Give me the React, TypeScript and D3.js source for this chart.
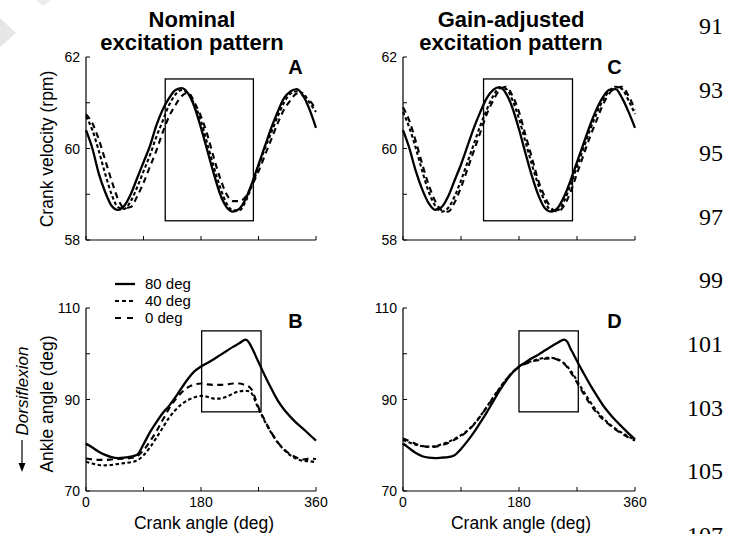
import React from "react";
import * as d3 from "d3";

// ---------- data ----------
const topAngles = [0,10,20,30,40,50,60,70,80,90,100,110,120,130,140,150,160,170,180,190,200,210,220,230,240,250,260,270,280,290,300,310,320,330,340,350,360];
const velA80 = [60.4,60.0,59.45,59.05,58.75,58.66,58.75,59.0,59.35,59.7,60.05,60.5,60.85,61.1,61.28,61.32,61.2,60.9,60.45,59.95,59.45,59.0,58.72,58.62,58.68,58.9,59.25,59.65,60.05,60.45,60.8,61.1,61.25,61.3,61.15,60.85,60.45];
const velA40 = [60.7,60.4,59.95,59.45,59.0,58.72,58.68,58.85,59.15,59.5,59.85,60.25,60.6,60.95,61.18,61.28,61.2,60.95,60.6,60.1,59.6,59.15,58.8,58.65,58.65,58.85,59.2,59.6,60.0,60.35,60.7,61.0,61.2,61.25,61.2,61.0,60.8];
const velA0 = [60.75,60.55,60.2,59.75,59.3,58.9,58.7,58.72,58.95,59.25,59.6,59.95,60.35,60.7,60.95,61.15,61.22,61.0,60.7,60.3,59.8,59.35,59.0,58.85,58.85,58.95,59.2,59.5,59.85,60.2,60.55,60.85,61.05,61.2,61.15,61.05,60.85];
const velC80 = [60.4,60.0,59.5,59.1,58.8,58.66,58.72,58.95,59.3,59.65,60.05,60.45,60.8,61.1,61.28,61.34,61.2,60.88,60.42,59.9,59.4,58.98,58.7,58.62,58.7,58.95,59.3,59.7,60.1,60.5,60.85,61.12,61.28,61.3,61.1,60.8,60.45];
const velC40 = [60.8,60.45,60.0,59.5,59.05,58.75,58.62,58.7,58.95,59.3,59.7,60.1,60.5,60.85,61.15,61.32,61.3,61.05,60.65,60.15,59.65,59.2,58.85,58.65,58.65,58.85,59.2,59.6,60.0,60.4,60.75,61.05,61.25,61.35,61.3,61.05,60.75];
const velC0 = [60.9,60.6,60.15,59.65,59.2,58.85,58.65,58.62,58.82,59.15,59.55,59.95,60.35,60.75,61.05,61.28,61.35,61.15,60.8,60.3,59.8,59.3,58.95,58.7,58.62,58.75,59.05,59.45,59.85,60.25,60.6,60.95,61.2,61.32,61.35,61.15,60.85];

const botAngles = [0,10,20,30,40,50,60,70,80,90,100,110,120,130,140,150,160,170,180,190,200,210,220,230,240,250,255,260,265,270,280,290,300,310,320,330,340,350,360];
const angB80 = [80.4,79.5,78.6,77.9,77.4,77.2,77.3,77.5,77.9,80.2,82.8,85.0,87.0,88.6,90.5,92.6,94.6,96.2,97.2,98.0,98.8,99.7,100.6,101.5,102.3,103.1,102.5,101.2,99.7,98.2,95.2,92.4,89.8,87.8,86.2,84.8,83.6,82.3,81.0];
const angB40 = [76.4,76.0,75.7,75.6,75.7,75.9,76.1,76.3,76.7,77.8,79.5,81.6,83.8,86.0,87.7,89.0,89.9,90.5,90.8,90.6,90.2,90.2,90.6,91.3,91.8,91.9,91.8,91.2,89.6,88.0,85.2,82.7,80.6,79.0,77.8,77.0,76.6,76.5,76.3];
const angB0 = [77.1,76.9,76.8,76.8,76.9,77.0,77.1,77.2,77.6,78.9,80.8,83.0,85.5,88.0,90.0,91.6,92.7,93.3,93.5,93.3,93.2,93.2,93.3,93.5,93.5,93.1,92.8,92.0,90.2,88.3,85.4,82.8,80.7,79.1,78.0,77.3,76.9,77.1,77.0];
const angD80 = [80.4,79.3,78.3,77.6,77.3,77.2,77.3,77.4,77.8,79.2,80.9,82.8,85.0,87.2,89.6,92.0,94.1,95.9,97.2,98.1,99.0,99.8,100.7,101.6,102.4,103.1,102.6,101.1,99.8,98.4,95.8,93.3,91.0,88.8,87.0,85.4,84.0,82.6,81.3];
const angD40 = [81.2,80.6,80.1,79.8,79.7,79.8,80.2,80.7,81.4,82.2,83.2,84.6,86.4,88.4,90.5,92.5,94.4,96.0,97.2,97.9,98.4,98.8,99.1,99.1,98.8,97.9,97.2,96.3,95.3,94.1,91.8,89.6,87.6,86.0,84.7,83.6,82.7,81.9,81.2];
const angD0 = [81.5,80.9,80.3,79.9,79.6,79.7,80.0,80.5,81.2,82.0,83.1,84.5,86.3,88.3,90.4,92.4,94.3,95.9,97.1,97.8,98.3,98.6,98.9,99.0,98.7,97.8,97.0,96.0,94.9,93.7,91.3,89.1,87.2,85.7,84.5,83.4,82.5,81.7,81.0];

// boxes: [x0, x1, yLow, yHigh] in data units
const boxA = [124, 262, 58.42, 61.52];
const boxC = [125, 263, 58.42, 61.52];
const boxB = [181, 274, 87.3, 105];
const boxD = [180, 272, 87.3, 105];

const xTicks = [0, 90, 180, 270, 360];
const xTickLabels = ["0", "", "180", "", "360"];
const velTicks = [58, 59, 60, 61, 62];
const velTickLabels = ["58", "", "60", "", "62"];
const angTicks = [70, 80, 90, 100, 110];
const angTickLabels = ["70", "", "90", "", "110"];

const legendLabels = ["80 deg", "40 deg", "0 deg"];
const lineNumbers = ["91", "93", "95", "97", "99", "101", "103", "105", "107"];

const SANS = "'Liberation Sans', Arial, Helvetica, sans-serif";
const styles = [
  { width: 2.3, dash: "none" },
  { width: 2.1, dash: "3.5,2.5" },
  { width: 2.1, dash: "6,4.5" },
];

type PanelProps = {
  x0: number; x1: number; yTop: number; yBot: number;
  domain: [number, number];
  ticks: number[]; tickLabels: string[];
  angles: number[]; series: number[][];
  box: number[]; letter: string;
  showXLabels: boolean;
};

function Panel(p: PanelProps) {
  const xs = d3.scaleLinear().domain([0, 360]).range([p.x0, p.x1]);
  const ys = d3.scaleLinear().domain(p.domain).range([p.yBot, p.yTop]);
  const line = d3.line<[number, number]>()
    .x(d => xs(d[0]))
    .y(d => ys(d[1]))
    .curve(d3.curveMonotoneX);
  const tl = 4;
  return (
    <g>
      {[2, 1, 0].map(i => (
        <path key={i}
          d={line(p.angles.map((a, k) => [a, p.series[i][k]]) as [number, number][]) || ""}
          fill="none" stroke="#000" strokeWidth={styles[i].width}
          strokeDasharray={styles[i].dash} strokeLinejoin="round" />
      ))}
      <rect x={xs(p.box[0])} y={ys(p.box[3])}
        width={xs(p.box[1]) - xs(p.box[0])} height={ys(p.box[2]) - ys(p.box[3])}
        fill="none" stroke="#000" strokeWidth={1.3} />
      <line x1={p.x0} x2={p.x0} y1={p.yTop} y2={p.yBot} stroke="#000" strokeWidth={1.2} />
      <line x1={p.x0} x2={p.x1} y1={p.yBot} y2={p.yBot} stroke="#000" strokeWidth={1.2} />
      {xTicks.map((t, i) => (
        <g key={"x" + i}>
          <line x1={xs(t)} x2={xs(t)} y1={p.yBot} y2={p.yBot - tl} stroke="#000" strokeWidth={1} />
          {p.showXLabels && xTickLabels[i] && (
            <text x={xs(t)} y={p.yBot + 16} textAnchor="middle" fontFamily={SANS} fontSize={14}>{xTickLabels[i]}</text>
          )}
        </g>
      ))}
      {p.ticks.map((t, i) => (
        <g key={"y" + i}>
          <line x1={p.x0} x2={p.x0 + tl} y1={ys(t)} y2={ys(t)} stroke="#000" strokeWidth={1} />
          {p.tickLabels[i] && (
            <text x={p.x0 - 6} y={ys(t) + 5} textAnchor="end" fontFamily={SANS} fontSize={14}>{p.tickLabels[i]}</text>
          )}
        </g>
      ))}
      <text x={xs(328)} y={p.yTop + (p.domain[0] === 58 ? 17 : 20)} textAnchor="middle" fontFamily={SANS}
        fontSize={20} fontWeight="bold">{p.letter}</text>
    </g>
  );
}

export default function App() {
  const velLeftY: [number, number] = [58, 62];
  const angY: [number, number] = [70, 110];
  return (
    <div style={{ position: "absolute", left: 0, top: 0 }}>
      <svg width={743} height={534} style={{ display: "block", background: "#fff" }}>
        <rect width={743} height={534} fill="#fff" />
        {/* faint background marks */}
        <polygon points="0,18 16,33 0,47" fill="#e6e6e6" />
        <polygon points="36,0 51,0 43,6" fill="#ececec" />
        {/* titles */}
        <text x={192} y={27} textAnchor="middle" fontFamily={SANS} fontSize={22} fontWeight="bold">Nominal</text>
        <text x={192} y={50} textAnchor="middle" fontFamily={SANS} fontSize={22} fontWeight="bold">excitation pattern</text>
        <text x={511} y={27} textAnchor="middle" fontFamily={SANS} fontSize={22} fontWeight="bold">Gain-adjusted</text>
        <text x={511} y={50} textAnchor="middle" fontFamily={SANS} fontSize={22} fontWeight="bold">excitation pattern</text>

        <Panel x0={86} x1={316} yTop={57} yBot={240} domain={velLeftY}
          ticks={velTicks} tickLabels={velTickLabels}
          angles={topAngles} series={[velA80, velA40, velA0]} box={boxA} letter="A" showXLabels={false} />
        <Panel x0={403} x1={635} yTop={57} yBot={240} domain={velLeftY}
          ticks={velTicks} tickLabels={velTickLabels}
          angles={topAngles} series={[velC80, velC40, velC0]} box={boxC} letter="C" showXLabels={false} />
        <Panel x0={86} x1={316} yTop={308} yBot={491} domain={angY}
          ticks={angTicks} tickLabels={angTickLabels}
          angles={botAngles} series={[angB80, angB40, angB0]} box={boxB} letter="B" showXLabels={true} />
        <Panel x0={403} x1={635} yTop={308} yBot={491} domain={angY}
          ticks={angTicks} tickLabels={angTickLabels}
          angles={botAngles} series={[angD80, angD40, angD0]} box={boxD} letter="D" showXLabels={true} />

        <text transform="translate(53,149) rotate(-90)" textAnchor="middle" fontFamily={SANS} fontSize={17.5}>Crank velocity (rpm)</text>
        <text transform="translate(53,404) rotate(-90)" textAnchor="middle" fontFamily={SANS} fontSize={17.5}>Ankle angle (deg)</text>
        <text transform="translate(28,391) rotate(-90)" textAnchor="middle" fontFamily={SANS} fontSize={17} fontStyle="italic">Dorsiflexion</text>
        <line x1={22} x2={22} y1={440} y2={468} stroke="#000" strokeWidth={1.2} />
        <path d="M18.5,463 L22,472 L25.5,463 Z" fill="#000" />
        <text x={204} y={529} textAnchor="middle" fontFamily={SANS} fontSize={17.5}>Crank angle (deg)</text>
        <text x={521} y={529} textAnchor="middle" fontFamily={SANS} fontSize={17.5}>Crank angle (deg)</text>

        {legendLabels.map((l, i) => (
          <g key={l}>
            <line x1={115} x2={135} y1={284 + i * 17} y2={284 + i * 17} stroke="#000"
              strokeWidth={styles[i].width} strokeDasharray={i === 0 ? "none" : i === 1 ? "4,3" : "6,6"} />
            <text x={145} y={289 + i * 17} fontFamily={SANS} fontSize={15}>{l}</text>
          </g>
        ))}

        {lineNumbers.map((n, i) => (
          <text key={n} x={723} y={34 + i * 63.6} textAnchor="end"
            fontFamily="'Liberation Serif', 'Times New Roman', serif" fontSize={24}>{n}</text>
        ))}
      </svg>
    </div>
  );
}
